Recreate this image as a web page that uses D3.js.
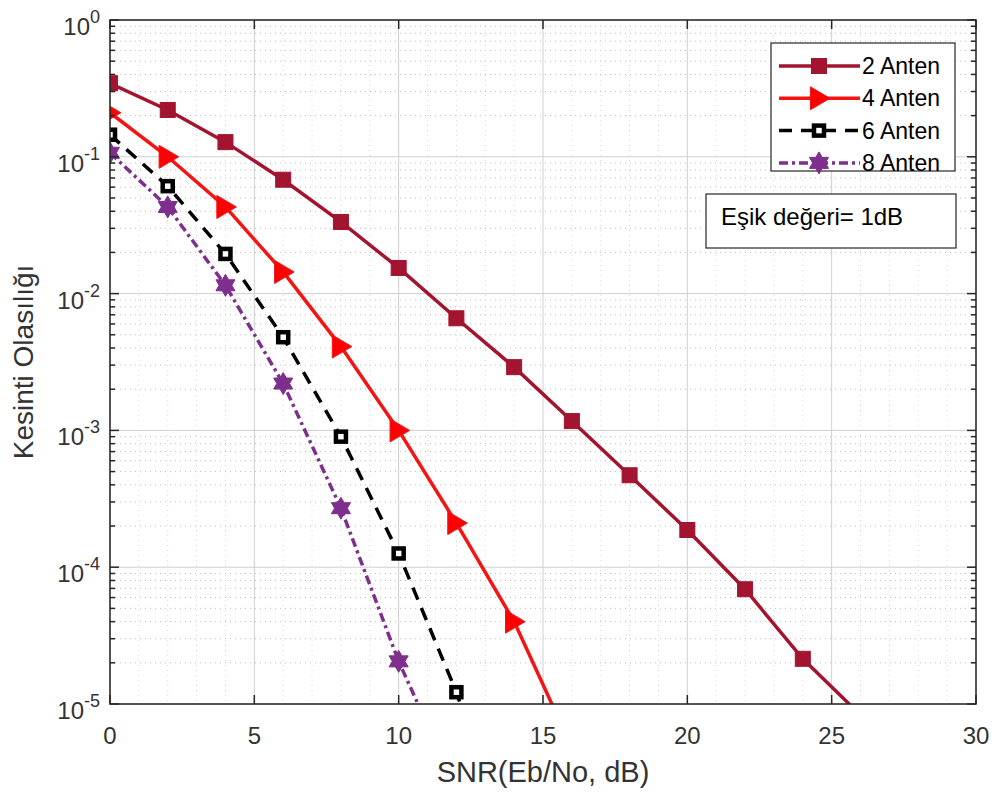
<!DOCTYPE html>
<html>
<head>
<meta charset="utf-8">
<script src="https://cdn.jsdelivr.net/npm/d3@7"></script>
<style>
  body { margin: 0; background: #fff; }
  text { font-family: "Liberation Sans", Arial, sans-serif; }
</style>
</head>
<body>
<div id="vis-container"></div>
<script>
// SNR values (dB) for each curve
const snr2 = [0, 2, 4, 6, 8, 10, 12, 14, 16, 18, 20, 22, 24, 26];
const snr4 = [0, 2, 4, 6, 8, 10, 12, 14, 16];
const snr6 = [0, 2, 4, 6, 8, 10, 12, 14];
const snr8 = [0, 2, 4, 6, 8, 10, 12];

// outage probabilities
const anten2 = [0.345, 0.22, 0.128, 0.068, 0.0334, 0.0154, 0.0066, 0.0029, 0.00117, 4.7e-4, 1.87e-4, 6.9e-5, 2.14e-5, 8.3e-6];
const anten4 = [0.21, 0.1, 0.043, 0.0144, 0.0041, 0.001, 2.1e-4, 4.0e-5, 4.8e-6];
const anten6 = [0.145, 0.061, 0.0195, 0.0048, 0.0009, 1.26e-4, 1.22e-5, 7e-7];
const anten8 = [0.107, 0.043, 0.0115, 0.0022, 2.7e-4, 2.05e-5, 2.4e-6];

const seriesNames = ["2 Anten", "4 Anten", "6 Anten", "8 Anten"];
const xTicks = [0, 5, 10, 15, 20, 25, 30];
const yExponents = [0, -1, -2, -3, -4, -5];
const note = "Eşik değeri= 1dB";

const width = 1000, height = 796;
const margin = { left: 110, right: 24, top: 20, bottom: 92 };

const svg = d3.select("#vis-container")
  .append("svg")
  .attr("width", width)
  .attr("height", height);

const xScale = d3.scaleLinear().domain([0, 30]).range([margin.left, width - margin.right]);
const yScale = d3.scaleLog().domain([1e-5, 1]).range([height - margin.bottom, margin.top]);

const x0 = xScale(0), x1 = xScale(30), y0 = yScale(1e-5), y1 = yScale(1);

// grid
const grid = svg.append("g");
const minorY = [];
for (let e = -5; e < 0; e++) {
  for (let k = 2; k <= 9; k++) minorY.push(k * Math.pow(10, e));
}
grid.selectAll(".ymin").data(minorY).enter().append("line")
  .attr("x1", x0).attr("x2", x1)
  .attr("y1", d => yScale(d)).attr("y2", d => yScale(d))
  .attr("stroke", "#bdbdbd").attr("stroke-width", 1)
  .attr("stroke-dasharray", "1,4");
grid.selectAll(".xmin").data(d3.range(1, 30).filter(d => d % 5 !== 0)).enter().append("line")
  .attr("x1", d => xScale(d)).attr("x2", d => xScale(d))
  .attr("y1", y1).attr("y2", y0)
  .attr("stroke", "#d8d8d8").attr("stroke-width", 1)
  .attr("stroke-dasharray", "1,4");
grid.selectAll(".ymaj").data(yExponents.map(e => Math.pow(10, e))).enter().append("line")
  .attr("x1", x0).attr("x2", x1)
  .attr("y1", d => yScale(d)).attr("y2", d => yScale(d))
  .attr("stroke", "#cfcfcf").attr("stroke-width", 1);
grid.selectAll(".xmaj").data(xTicks).enter().append("line")
  .attr("x1", d => xScale(d)).attr("x2", d => xScale(d))
  .attr("y1", y1).attr("y2", y0)
  .attr("stroke", "#cfcfcf").attr("stroke-width", 1);

// clip for curves
svg.append("clipPath").attr("id", "plotclip")
  .append("rect").attr("x", x0).attr("y", y1).attr("width", x1 - x0).attr("height", y0 - y1);

const series = [
  { name: seriesNames[0], x: snr2, y: anten2, color: "#a2142f", dash: null, marker: "square", fill: "#a2142f", size: 15 },
  { name: seriesNames[1], x: snr4, y: anten4, color: "#f41414", dash: null, marker: "triangle", fill: "#ff0000", size: 23 },
  { name: seriesNames[2], x: snr6, y: anten6, color: "#000000", dash: "13,9", marker: "hollow", fill: "#ffffff", size: 10 },
  { name: seriesNames[3], x: snr8, y: anten8, color: "#7e2f8e", dash: "9,4,3,4", marker: "star", fill: "#7e2f8e", size: 22 }
];

// six pointed star (hexagram) path
function hexagram(cx, cy, r) {
  const pts = [];
  for (let i = 0; i < 12; i++) {
    const a = -Math.PI / 2 + i * Math.PI / 6;
    const rr = i % 2 === 0 ? r : r * 0.58;
    pts.push([cx + rr * Math.cos(a), cy + rr * Math.sin(a)]);
  }
  return "M" + pts.map(p => p.join(",")).join("L") + "Z";
}

function drawMarker(g, s, cx, cy) {
  const h = s.size / 2;
  if (s.marker === "square") {
    g.append("rect").attr("x", cx - h).attr("y", cy - h).attr("width", s.size).attr("height", s.size)
      .attr("fill", s.fill).attr("stroke", s.color).attr("stroke-width", 1);
  } else if (s.marker === "hollow") {
    g.append("rect").attr("x", cx - h).attr("y", cy - h).attr("width", s.size).attr("height", s.size)
      .attr("fill", "#fff").attr("stroke", s.color).attr("stroke-width", 4.5);
  } else if (s.marker === "triangle") {
    g.append("path")
      .attr("d", `M${cx - h * 0.75},${cy - h} L${cx + h * 0.95},${cy} L${cx - h * 0.75},${cy + h} Z`)
      .attr("fill", s.fill).attr("stroke", s.color).attr("stroke-width", 1);
  } else if (s.marker === "star") {
    g.append("path")
      .attr("d", hexagram(cx, cy, h))
      .attr("fill", s.fill).attr("stroke", s.color).attr("stroke-width", 1);
  }
}

const plot = svg.append("g").attr("clip-path", "url(#plotclip)");
const line = d3.line().x(d => xScale(d[0])).y(d => yScale(d[1]));

series.forEach(s => {
  const pts = s.x.map((v, i) => [v, s.y[i]]);
  plot.append("path")
    .datum(pts)
    .attr("d", line)
    .attr("fill", "none")
    .attr("stroke", s.color)
    .attr("stroke-width", 3.5)
    .attr("stroke-dasharray", s.dash);
  pts.filter(p => p[1] >= 1e-5).forEach(p => drawMarker(plot, s, xScale(p[0]), yScale(p[1])));
});

// axes box and ticks
const axisColor = "#262626";
svg.append("rect").attr("x", x0).attr("y", y1).attr("width", x1 - x0).attr("height", y0 - y1)
  .attr("fill", "none").attr("stroke", axisColor).attr("stroke-width", 1.5);

const ticks = svg.append("g").attr("stroke", axisColor).attr("stroke-width", 1.5);
xTicks.forEach(t => {
  ticks.append("line").attr("x1", xScale(t)).attr("x2", xScale(t)).attr("y1", y0).attr("y2", y0 - 9);
  ticks.append("line").attr("x1", xScale(t)).attr("x2", xScale(t)).attr("y1", y1).attr("y2", y1 + 9);
});
yExponents.forEach(e => {
  const yy = yScale(Math.pow(10, e));
  ticks.append("line").attr("x1", x0).attr("x2", x0 + 9).attr("y1", yy).attr("y2", yy);
  ticks.append("line").attr("x1", x1).attr("x2", x1 - 9).attr("y1", yy).attr("y2", yy);
});
minorY.forEach(v => {
  const yy = yScale(v);
  ticks.append("line").attr("x1", x0).attr("x2", x0 + 5).attr("y1", yy).attr("y2", yy);
  ticks.append("line").attr("x1", x1).attr("x2", x1 - 5).attr("y1", yy).attr("y2", yy);
});

// tick labels
svg.selectAll(".xlab").data(xTicks).enter().append("text")
  .attr("x", d => xScale(d)).attr("y", y0 + 40)
  .attr("text-anchor", "middle").attr("font-size", 24).attr("fill", "#333")
  .text(d => d);

yExponents.forEach(e => {
  const t = svg.append("text")
    .attr("x", x0 - 10).attr("y", yScale(Math.pow(10, e)) + 15)
    .attr("text-anchor", "end").attr("font-size", 24).attr("fill", "#333");
  t.append("tspan").text("10");
  t.append("tspan").attr("dy", -12).attr("font-size", 18).text(e);
});

// axis titles
svg.append("text")
  .attr("x", (x0 + x1) / 2).attr("y", 782)
  .attr("text-anchor", "middle").attr("font-size", 29).attr("fill", "#333")
  .text("SNR(Eb/No, dB)");
svg.append("text")
  .attr("transform", `translate(33,${(y0 + y1) / 2}) rotate(-90)`)
  .attr("text-anchor", "middle").attr("font-size", 28).attr("fill", "#333")
  .text("Kesinti Olasılığı");

// legend
const lg = svg.append("g");
lg.append("rect").attr("x", 771).attr("y", 43).attr("width", 184).attr("height", 128)
  .attr("fill", "#fff").attr("stroke", axisColor).attr("stroke-width", 1.2);
series.forEach((s, i) => {
  const yy = 66 + i * 32.3;
  lg.append("line").attr("x1", 779).attr("x2", 860).attr("y1", yy).attr("y2", yy)
    .attr("stroke", s.color).attr("stroke-width", 3.5).attr("stroke-dasharray", s.dash);
  drawMarker(lg, s, 819, yy);
  lg.append("text").attr("x", 862).attr("y", yy + 8)
    .attr("font-size", 23).attr("fill", "#000").text(s.name);
});

// annotation box
svg.append("rect").attr("x", 706).attr("y", 194).attr("width", 250).attr("height", 54)
  .attr("fill", "#fff").attr("stroke", axisColor).attr("stroke-width", 1.2);
svg.append("text").attr("x", 721).attr("y", 225)
  .attr("font-size", 24).attr("fill", "#000").text(note);
</script>
</body>
</html>
